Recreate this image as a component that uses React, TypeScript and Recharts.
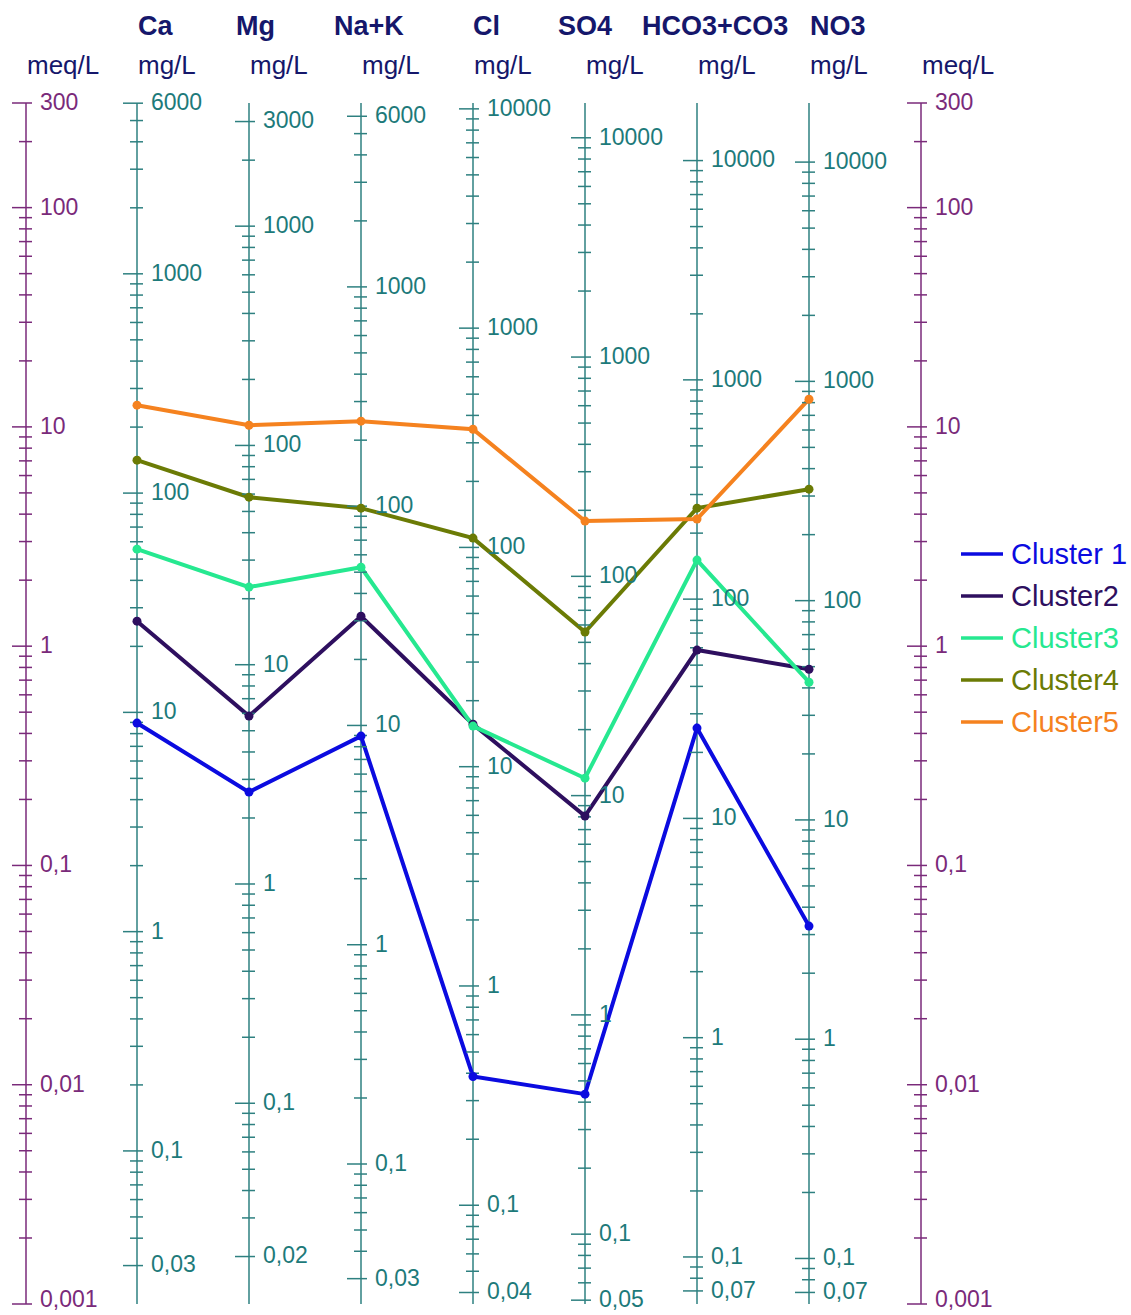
import React from 'react';
import { Legend, Line, LineChart, ReferenceDot, ReferenceLine, XAxis, YAxis } from 'recharts';

// ions on the Schoeller axes, with their equivalent weight (mg per meq)
const ions = ['Ca', 'Mg', 'Na+K', 'Cl', 'SO4', 'HCO3+CO3', 'NO3'];
const eqWeights = [20.04, 12.15, 22.99, 35.45, 48.03, 61.02, 62.0];
// mg/L range shown on each ion axis
const mgMin = [0.03, 0.02, 0.03, 0.04, 0.05, 0.07, 0.07];
const mgMax = [6000, 3000, 6000, 10000, 10000, 10000, 10000];

// mean concentrations per cluster, meq/L
const cluster1 = [0.446, 0.216, 0.389, 0.0109, 0.00906, 0.423, 0.0529];
const cluster2 = [1.3, 0.48, 1.37, 0.441, 0.168, 0.96, 0.785];
const cluster3 = [2.77, 1.86, 2.29, 0.432, 0.25, 2.47, 0.685];
const cluster4 = [7.05, 4.78, 4.26, 3.11, 1.16, 4.26, 5.2];
const cluster5 = [12.56, 10.18, 10.62, 9.76, 3.72, 3.8, 13.37];

const clusterNames = ['Cluster 1', 'Cluster2', 'Cluster3', 'Cluster4', 'Cluster5'];
const clusterColors = ['#0b0be0', '#2e0f5f', '#26e890', '#6b7b05', '#f5821f'];

const meqLabels = [0.001, 0.01, 0.1, 1, 10, 100, 300];

const NAVY = '#15176b';
const PURPLE = '#7a2a7a';
const TEAL = '#2e8080';
const TEAL_TEXT = '#1d7a7a';
const LABEL_SIZE = 23;

// left offset of each ion name relative to its axis
const headerShift: Record<string, number> = {
  Ca: 1,
  Mg: -13,
  'Na+K': -27,
  Cl: 0,
  SO4: -27,
  'HCO3+CO3': -55,
  NO3: 1,
};

const series = [cluster1, cluster2, cluster3, cluster4, cluster5];
const data = ions.map((ion, i) => {
  const row: Record<string, string | number> = { ion };
  series.forEach((s, k) => {
    row[`c${k + 1}`] = s[i];
  });
  return row;
});

// 1..9 x 10^n between lo and hi
function logTicks(lo: number, hi: number): number[] {
  const out: number[] = [];
  for (let e = Math.floor(Math.log10(lo)); e <= Math.ceil(Math.log10(hi)); e++) {
    for (let k = 1; k <= 9; k++) {
      const v = Number((k * Math.pow(10, e)).toPrecision(6));
      if (v >= lo * 0.9999 && v <= hi * 1.0001) out.push(v);
    }
  }
  return out;
}

const isDecade = (v: number) => Math.abs(Math.log10(v) - Math.round(Math.log10(v))) < 1e-9;
const fmt = (v: number) => String(v).replace('.', ',');

const meqTicks = logTicks(0.001, 300);

function MeqTick(props: any) {
  const { x, y, payload } = props;
  const v = payload.value as number;
  const major = meqLabels.includes(v);
  // lowest label sits on the bottom edge, keep its comma inside
  const dy = v === 0.001 ? '0.15em' : '0.3em';
  return (
    <g>
      <line x1={major ? x - 14 : x - 7} x2={x + 6} y1={y} y2={y} stroke={PURPLE} strokeWidth={1.5} />
      {major && (
        <text x={x + 14} y={y} dy={dy} fill={PURPLE} fontSize={LABEL_SIZE}>
          {fmt(v)}
        </text>
      )}
      {v === 300 && (
        <text x={x + 1} y={y - 29} fill={NAVY} fontSize={26}>
          meq/L
        </text>
      )}
    </g>
  );
}

function IonTick(props: any) {
  const { x, y, payload } = props;
  const ion = payload.value as string;
  return (
    <g>
      <text x={x + (headerShift[ion] ?? 0)} y={y - 68} fill={NAVY} fontSize={27} fontWeight="bold">
        {ion}
      </text>
      <text x={x + 1} y={y - 29} fill={NAVY} fontSize={26}>
        mg/L
      </text>
    </g>
  );
}

function mgTickShape(mg: number, major: boolean) {
  return (p: any) => (
    <g>
      <line x1={major ? p.cx - 14 : p.cx - 7} x2={p.cx + 6} y1={p.cy} y2={p.cy} stroke={TEAL} strokeWidth={1.5} />
      {major && (
        <text x={p.cx + 14} y={p.cy} dy="0.3em" fill={TEAL_TEXT} fontSize={LABEL_SIZE}>
          {fmt(mg)}
        </text>
      )}
    </g>
  );
}

function ClusterLegend(props: any) {
  const { payload } = props;
  return (
    <div>
      {(payload || []).map((entry: any) => (
        <div key={entry.value} style={{ display: 'flex', alignItems: 'center', height: 42 }}>
          <svg width={42} height={6}>
            <line x1={0} x2={42} y1={3} y2={3} stroke={entry.color} strokeWidth={3.5} />
          </svg>
          <span style={{ marginLeft: 8, color: entry.color, fontSize: 29, lineHeight: '42px', whiteSpace: 'nowrap' }}>
            {entry.value}
          </span>
        </div>
      ))}
    </div>
  );
}

export default function App() {
  return (
    <div style={{ position: 'absolute', left: 0, top: 0, fontFamily: '"Liberation Sans", Arial, sans-serif' }}>
      <LineChart width={1131} height={1315} data={data} margin={{ top: 0, right: 0, bottom: 11, left: 0 }}>
        <XAxis
          dataKey="ion"
          orientation="top"
          height={103}
          padding={{ left: 111, right: 112 }}
          axisLine={false}
          tickLine={false}
          tickSize={0}
          tickMargin={0}
          interval={0}
          tick={IonTick}
        />
        <YAxis
          scale="log"
          domain={[0.001, 300]}
          allowDataOverflow
          ticks={meqTicks}
          interval={0}
          width={26}
          tickLine={false}
          tickSize={0}
          tickMargin={0}
          axisLine={{ stroke: PURPLE, strokeWidth: 1.5 }}
          tick={MeqTick}
        />
        <YAxis
          yAxisId="right"
          orientation="right"
          scale="log"
          domain={[0.001, 300]}
          allowDataOverflow
          ticks={meqTicks}
          interval={0}
          width={210}
          tickLine={false}
          tickSize={0}
          tickMargin={0}
          axisLine={{ stroke: PURPLE, strokeWidth: 1.5 }}
          tick={MeqTick}
        />
        {ions.map((ion) => (
          <ReferenceLine key={`axis-${ion}`} x={ion} stroke={TEAL} strokeWidth={1.5} ifOverflow="visible" />
        ))}
        {ions.map((ion, i) =>
          logTicks(mgMin[i], mgMax[i]).map((mg) => (
            <ReferenceDot
              key={`${ion}-${mg}`}
              x={ion}
              y={mg / eqWeights[i]}
              ifOverflow="visible"
              shape={mgTickShape(mg, isDecade(mg) || mg === mgMin[i] || mg === mgMax[i])}
            />
          ))
        )}
        {clusterNames.map((name, k) => (
          <Line
            key={name}
            type="linear"
            dataKey={`c${k + 1}`}
            name={name}
            stroke={clusterColors[k]}
            strokeWidth={4}
            dot={{ r: 4.5, fill: clusterColors[k], stroke: clusterColors[k], strokeWidth: 0 }}
            activeDot={false}
            isAnimationActive={false}
          />
        ))}
        <Legend
          layout="vertical"
          align="center"
          verticalAlign="middle"
          wrapperStyle={{ left: 961, top: 533, width: 170 }}
          content={ClusterLegend}
        />
      </LineChart>
    </div>
  );
}
